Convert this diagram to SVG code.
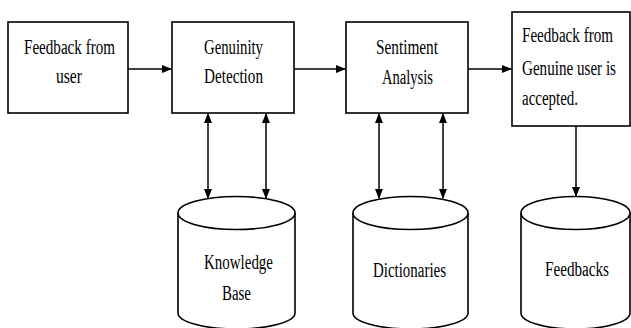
<svg xmlns="http://www.w3.org/2000/svg" width="631" height="328" viewBox="0 0 631 328">
<style>
.box{fill:#fff;stroke:#000;stroke-width:1.6}
.cyl{fill:#fff;stroke:#000;stroke-width:1.6}
.ln{fill:none;stroke:#000;stroke-width:1.5}
text{font-family:"Liberation Serif","Times New Roman",serif;font-size:20px;fill:#000}
</style>
<defs>
<marker id="ah" markerWidth="10" markerHeight="8" refX="9" refY="4" orient="auto-start-reverse" markerUnits="userSpaceOnUse">
<path d="M0,0 L10,4 L0,8 Z" fill="#000"/>
</marker>
</defs>
<rect width="631" height="328" fill="#fff"/>
<g id="connectors">
<line class="ln" x1="128" y1="69" x2="171" y2="69" marker-end="url(#ah)"/>
<line class="ln" x1="294" y1="69" x2="345" y2="69" marker-end="url(#ah)"/>
<line class="ln" x1="468" y1="69" x2="511" y2="69" marker-end="url(#ah)"/>
<line class="ln" x1="208" y1="114" x2="208" y2="198" marker-start="url(#ah)" marker-end="url(#ah)"/>
<line class="ln" x1="266" y1="114" x2="266" y2="198" marker-start="url(#ah)" marker-end="url(#ah)"/>
<line class="ln" x1="379" y1="114" x2="379" y2="198" marker-start="url(#ah)" marker-end="url(#ah)"/>
<line class="ln" x1="443" y1="114" x2="443" y2="198" marker-start="url(#ah)" marker-end="url(#ah)"/>
<line class="ln" x1="576" y1="126" x2="576" y2="196" marker-end="url(#ah)"/>
</g>
<g id="n1">
<rect class="box" x="8" y="22" width="120" height="91"/>
<text x="24" y="54" textLength="91" lengthAdjust="spacingAndGlyphs">Feedback from</text>
<text x="56" y="83" textLength="26" lengthAdjust="spacingAndGlyphs">user</text>
</g>
<g id="n2">
<rect class="box" x="172" y="22" width="122" height="91"/>
<text x="204" y="54" textLength="59" lengthAdjust="spacingAndGlyphs">Genuinity</text>
<text x="204" y="83" textLength="59" lengthAdjust="spacingAndGlyphs">Detection</text>
</g>
<g id="n3">
<rect class="box" x="346" y="22" width="122" height="91"/>
<text x="376" y="54" textLength="62" lengthAdjust="spacingAndGlyphs">Sentiment</text>
<text x="382" y="84" textLength="51" lengthAdjust="spacingAndGlyphs">Analysis</text>
</g>
<g id="n4">
<rect class="box" x="512" y="12" width="118" height="114"/>
<text x="522" y="42" textLength="91" lengthAdjust="spacingAndGlyphs">Feedback from</text>
<text x="522" y="75" textLength="94" lengthAdjust="spacingAndGlyphs">Genuine user is</text>
<text x="522" y="105" textLength="56" lengthAdjust="spacingAndGlyphs">accepted.</text>
</g>
<g id="db1">
<path class="cyl" d="M178,213 L178,313 A58.5,16 0 0 0 295,313 L295,213"/>
<ellipse class="cyl" cx="236.5" cy="213" rx="58.5" ry="16.5"/>
<text x="204" y="269" textLength="69" lengthAdjust="spacingAndGlyphs">Knowledge</text>
<text x="222" y="300" textLength="29" lengthAdjust="spacingAndGlyphs">Base</text>
</g>
<g id="db2">
<path class="cyl" d="M353,213 L353,313 A57.5,16 0 0 0 468,313 L468,213"/>
<ellipse class="cyl" cx="410.5" cy="213" rx="57.5" ry="16.5"/>
<text x="373" y="277" textLength="73" lengthAdjust="spacingAndGlyphs">Dictionaries</text>
</g>
<g id="db3">
<path class="cyl" d="M521,213 L521,313 A54.5,16 0 0 0 630,313 L630,213"/>
<ellipse class="cyl" cx="575.5" cy="213" rx="54.5" ry="16.5"/>
<text x="545" y="276" textLength="64" lengthAdjust="spacingAndGlyphs">Feedbacks</text>
</g>
</svg>
